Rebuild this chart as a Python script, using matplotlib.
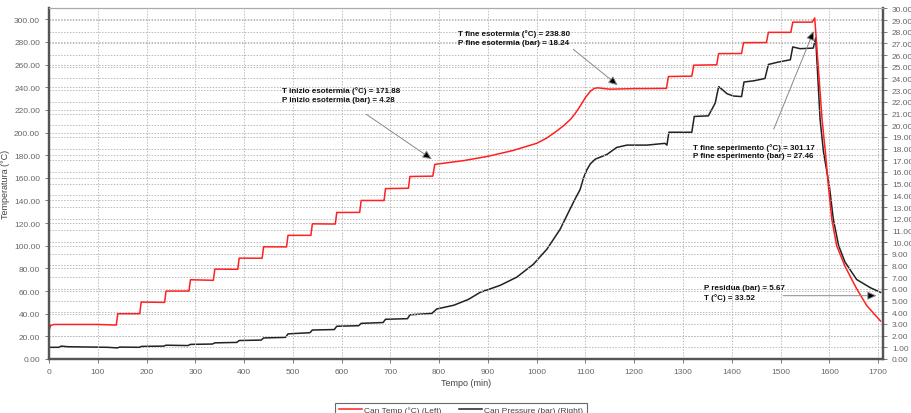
import matplotlib
matplotlib.use("Agg")
import matplotlib.pyplot as plt
from matplotlib.lines import Line2D

plt.rcParams['font.family'] = ['Liberation Sans', 'DejaVu Sans']

# ---------------- data ----------------
time_temp = [0, 3, 10, 100, 135, 138, 141, 186, 189, 237, 240, 287, 290, 337, 340,
             387, 390, 437, 440, 487, 490, 537, 540, 587, 590, 637, 640, 687, 690,
             737, 740, 787, 791, 850, 900, 950, 1000, 1020, 1040, 1055, 1070, 1080,
             1090, 1100, 1110, 1118, 1125, 1135, 1150, 1200, 1266, 1270, 1318, 1322,
             1369, 1373, 1420, 1424, 1471, 1475, 1521, 1525, 1565, 1570, 1585, 1592,
             1598, 1605, 1615, 1632, 1656, 1677, 1705]
temp_c = [25, 29.5, 30.5, 30.5, 30, 30, 40, 40, 50.3, 50, 60, 60, 70, 69.5, 79.4,
          79.2, 89.1, 89, 99.1, 99, 109.2, 109.2, 119.4, 119.2, 129.4, 129.5, 140, 140, 150.5,
          150.8, 161.2, 161.5, 171.9, 175.2, 179, 184, 190.5, 195, 201, 206, 212, 217.5,
          224, 231, 236.5, 239, 239.5, 239, 238.3, 238.8, 239, 249.5, 249.8, 259.5,
          259.8, 269.7, 269.8, 279.4, 279.5, 288.5, 288.5, 297.5, 297.5, 301.2, 212, 182,
          153, 123.5, 100, 82, 62, 47, 33.5]

time_pres = [0, 20, 25, 40, 120, 140, 145, 185, 190, 235, 240, 285, 290, 335, 340,
             385, 390, 435, 440, 485, 490, 535, 540, 585, 590, 635, 640, 685, 690,
             735, 740, 785, 795, 830, 860, 884, 925, 959, 993, 1021, 1048, 1068, 1080,
             1089, 1096, 1103, 1110, 1120, 1144, 1164, 1185, 1226, 1263, 1267, 1271,
             1318, 1323, 1352, 1366, 1373, 1382, 1390, 1403, 1420, 1425, 1445, 1468,
             1475, 1495, 1520, 1525, 1540, 1567, 1572, 1581, 1588, 1600, 1608, 1619,
             1632, 1656, 1684, 1705]
pres_bar = [1.0, 1.0, 1.1, 1.05, 1.0, 0.95, 1.02, 1.0, 1.08, 1.1, 1.18, 1.15, 1.25, 1.28, 1.38,
            1.42, 1.58, 1.62, 1.8, 1.85, 2.15, 2.25, 2.48, 2.52, 2.8, 2.85, 3.05, 3.12, 3.4,
            3.45, 3.78, 3.9, 4.28, 4.6, 5.1, 5.7, 6.3, 7.0, 8.1, 9.4, 11.1, 12.8, 13.8,
            14.5, 15.5, 16.2, 16.7, 17.1, 17.5, 18.1, 18.3, 18.3, 18.45, 18.3, 19.4,
            19.4, 20.75, 20.8, 21.9, 23.3, 23.0, 22.7, 22.5, 22.45, 23.7, 23.8, 24.0,
            25.2, 25.4, 25.6, 26.7, 26.55, 26.6, 27.46, 20.5, 17.7, 14.8, 12.0, 9.7,
            8.3, 6.8, 6.1, 5.7]

x_ticks = list(range(0, 1701, 100))
left_ticks = list(range(0, 301, 20))
right_ticks = list(range(0, 31, 1))

annotations = [
    ("T inizio esotermia (°C) = 171.88\nP inizio esotermia (bar) = 4.28", (477, 233.5), (651, 216), (785, 176.5)),
    ("T fine esotermia (°C) = 238.80\nP fine esotermia (bar) = 18.24", (838, 284), (1075, 273.5), (1166, 241.8)),
    ("T fine seperimento (°C) = 301.17\nP fine esperimento (bar) = 27.46", (1321, 183.8), (1486, 203), (1568, 289.7)),
    ("P residua (bar) = 5.67\nT (°C) = 33.52", (1343, 58.8), (1505, 55.9), (1697, 55.9)),
]

legend_labels = ["Can Temp (°C) (Left)", "Can Pressure (bar) (Right)"]

# ---------------- figure ----------------
W, H = 912, 414
fig = plt.figure(figsize=(W / 100, H / 100), dpi=100)
ax = fig.add_axes([49 / W, 1 - 360 / H, (883 - 49) / W, (360 - 9) / H])
ax2 = ax.twinx()

tick_col = '#666666'
spine_col = '#555555'
grid_kw = dict(color='#bbbbbb', linestyle=(0, (1.5, 1.5)), linewidth=0.7)

ax2.plot(time_pres, pres_bar, color='#222222', lw=1.1)
ax.plot(time_temp, temp_c, color='#ff2020', lw=1.1)

ax.set_xlim(0, 1710)
ax.set_ylim(0, 310)
ax2.set_ylim(0, 30.03)
ax.set_xticks(x_ticks)
ax.set_yticks(left_ticks)
ax2.set_yticks(right_ticks)
ax.set_yticklabels([f"{v:.2f}" for v in left_ticks])
ax2.set_yticklabels([f"{v:.2f}" for v in right_ticks])

ax.set_zorder(ax2.get_zorder() + 1)
ax.patch.set_visible(False)

ax.grid(True, axis='both', **grid_kw)
ax2.grid(True, axis='y', **grid_kw)
ax2.set_axisbelow(True)

for a in (ax, ax2):
    a.tick_params(labelsize=6, colors=tick_col, length=3, width=0.6)
    for s in ('left', 'right', 'bottom'):
        a.spines[s].set_color(spine_col)
        a.spines[s].set_linewidth(1.6)
    a.spines['top'].set_color('#aaaaaa')
    a.spines['top'].set_linewidth(0.8)

ax.set_xlabel("Tempo (min)", fontsize=6.5, color='#444444', labelpad=2)
ax.set_ylabel("Temperatura (°C)", fontsize=6.5, color='#444444', labelpad=3)

for txt, tpos, start, tip in annotations:
    ax.text(tpos[0], tpos[1], txt, fontsize=5.8, fontweight='bold', color='#111111',
            ha='left', va='center', linespacing=1.25, zorder=6)
    ax.annotate('', xy=tip, xytext=start,
                arrowprops=dict(arrowstyle='-|>,head_length=0.55,head_width=0.25',
                                ec='#888888', fc='black', lw=0.7, shrinkA=0, shrinkB=0),
                zorder=6)

handles = [Line2D([], [], color='#ff2020', lw=1.1), Line2D([], [], color='#222222', lw=1.1)]
leg = fig.legend(handles, legend_labels, loc='upper center', bbox_to_anchor=(461 / W, 1 - 400 / H),
                 ncol=2, fontsize=6, frameon=True, fancybox=False, edgecolor='#444444',
                 handlelength=2.8, columnspacing=2.0, borderpad=0.4, handletextpad=0.3)
for t in leg.get_texts():
    t.set_color('#444444')
leg.get_frame().set_linewidth(0.8)

fig.savefig("out.png", dpi=100)
